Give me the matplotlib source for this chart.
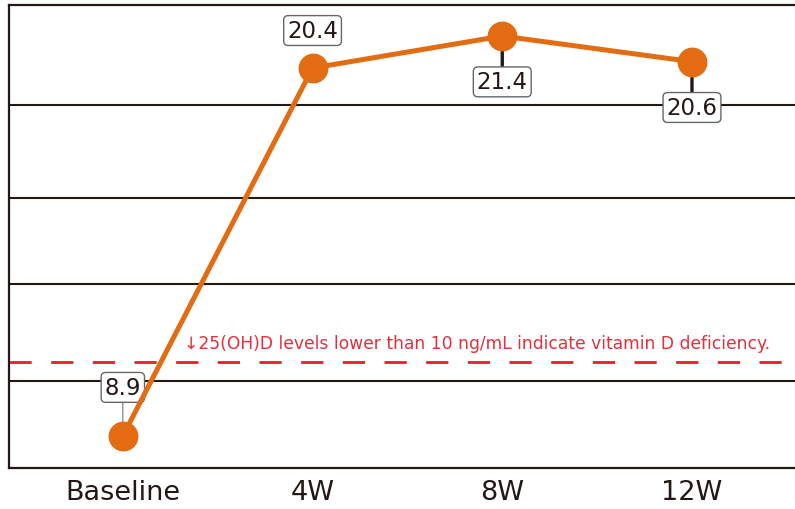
import matplotlib.pyplot as plt

# Data
timepoints = ['Baseline', '4W', '8W', '12W']
levels = [8.9, 20.4, 21.4, 20.6]
grid_levels = [10.62, 13.65, 16.34, 19.24]
deficiency_level = 11.22
deficiency_note = '\u219325(OH)D levels lower than 10 ng/mL indicate vitamin D deficiency.'

# label offsets (points) relative to each marker
label_offsets = [(0, 35), (0, 27), (0, -33), (0, -33)]

orange = '#e36c12'
dark = '#231815'

fig = plt.figure(figsize=(7.95, 5.1), dpi=100)
ax = fig.add_axes([9 / 795, 41 / 510, 1 - 9 / 795, 463 / 510])

x = list(range(len(timepoints)))

# horizontal grid lines
for g in grid_levels:
    ax.axhline(g, color=dark, lw=1.5, zorder=1)

# deficiency threshold
ax.hlines(deficiency_level, -0.6, 3.48, colors='#e0202a', lw=2, linestyles=(0, (8, 7)), zorder=2)
ax.text(0.32, deficiency_level + 0.3, deficiency_note, color='#e3303c', fontsize=12.3,
        ha='left', va='bottom', zorder=3)

# main line
ax.plot(x, levels, color=orange, lw=3.6, marker='o', markersize=20.5, zorder=5)

# value labels
for i, (xi, v) in enumerate(zip(x, levels)):
    dx, dy = label_offsets[i]
    if i == 0:
        arrow = dict(arrowstyle='-', color='#777777', lw=0.8, shrinkA=0, shrinkB=10)
    elif dy < 0:
        arrow = dict(arrowstyle='-', color=dark, lw=2.4, shrinkA=0, shrinkB=10)
    else:
        arrow = None
    ax.annotate(f'{v}', xy=(xi, v), xytext=(dx, dy), textcoords='offset points',
                ha='center', va='center', fontsize=16.5, color=dark,
                bbox=dict(boxstyle='round,pad=0.15,rounding_size=0.2', fc='white',
                          ec='#666666', lw=1),
                arrowprops=arrow, zorder=4 if arrow is not None else 6)

ax.set_xlim(-0.6, 3.543)
ax.set_ylim(7.9, 22.37)
ax.set_xticks(x)
ax.set_xticklabels(timepoints, fontsize=19.5, color=dark)
ax.tick_params(axis='x', length=0, pad=8)
ax.set_yticks([])

for side in ['left', 'top', 'bottom']:
    ax.spines[side].set_color(dark)
    ax.spines[side].set_linewidth(1.6)
ax.spines['right'].set_visible(False)

fig.savefig('out.png', dpi=100)
